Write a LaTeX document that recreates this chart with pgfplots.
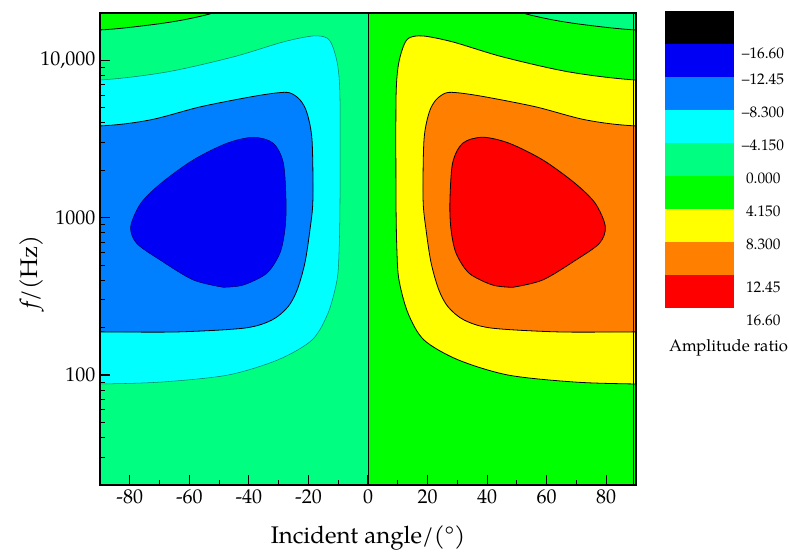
\documentclass[border=0pt]{standalone}
\usepackage{fontspec}
\setmainfont{TeX Gyre Pagella}
\usepackage{pgfplots}
\pgfplotsset{compat=1.18}
\definecolor{cbBlue}{RGB}{0,0,245}
\definecolor{cbMid}{RGB}{0,128,255}
\definecolor{cbCyan}{RGB}{0,255,255}
\definecolor{cbSpring}{RGB}{0,255,128}
\definecolor{cbGreen}{RGB}{0,255,0}
\definecolor{cbYellow}{RGB}{255,255,0}
\definecolor{cbOrange}{RGB}{255,128,0}
\definecolor{cbRed}{RGB}{255,0,0}
\definecolor{lineTeal}{RGB}{0,130,100}
\definecolor{lineNavy}{RGB}{0,0,110}
\begin{document}
\begin{tikzpicture}
\path[use as bounding box] (-75pt,-51pt) rectangle (516.75pt,363.75pt);
\begin{axis}[
  at={(0,0)}, anchor=south west,
  width=402pt, height=354pt, scale only axis,
  xmin=-90, xmax=90, ymin=20, ymax=20000, ymode=log,
  axis on top,
  xtick={-80,-60,-40,-20,0,20,40,60,80},
  xticklabels={-80,-60,-40,-20,0,20,40,60,80},
  minor xtick={-70,-50,-30,-10,10,30,50,70},
  ytick={100,1000,10000},
  yticklabels={100,1000,{10,000}},
  minor ytick={20,30,40,50,60,70,80,90,200,300,400,500,600,700,800,900,2000,3000,4000,5000,6000,7000,8000,9000},
  tick pos=left, tick align=inside,
  major tick length=7.5pt, minor tick length=4pt,
  every tick/.style={black, line width=0.8pt},
  axis line style={black, line width=0.9pt},
  ticklabel style={font=\fontsize{15}{18}\selectfont},
  xlabel={Incident angle/(°)},
  ylabel={{\itshape f}/(Hz)},
  every axis x label/.style={at={(axis description cs:0.5,-0.112)}, anchor=center, font=\fontsize{18}{21}\selectfont},
  every axis y label/.style={at={(axis description cs:-0.127,0.451)}, anchor=center, rotate=90, font=\fontsize{18}{21}\selectfont},
]
% backgrounds
\addplot[fill=cbSpring, draw=none] coordinates {(-100,10) (0,10) (0,40000) (-100,40000)};
\addplot[fill=cbGreen, draw=none] coordinates {(0,10) (100,10) (100,40000) (0,40000)};
% top corner regions
\addplot[fill=cbGreen, draw=black, line width=0.6pt, smooth] coordinates {
 (-120,15000) (-90,15600) (-73.2,16790) (-62.1,18070) (-52,20000) (-46,22500) (-40,40000) (-120,40000)};
\addplot[fill=cbSpring, draw=black, line width=0.6pt, smooth] coordinates {
 (120,15000) (90,15600) (73.2,16790) (62.1,18070) (52,20000) (46,22500) (40,40000) (120,40000)};
% -8.3..-4.15 (left) and 4.15..8.3 (right)
\addplot[fill=cbCyan, draw=lineTeal, line width=0.4pt, smooth] coordinates {
 (-120,7300) (-90,7500) (-67.5,8440) (-45.3,10510) (-28.5,13090) (-18.5,14290) (-13.8,13880)
 (-11.8,12170) (-10.1,9080) (-9.4,5600) (-9.4,1300) (-9.7,624) (-10.4,402) (-13.4,248)
 (-18.8,167) (-30.2,125) (-47.0,100) (-69.2,90.3) (-90,87.7) (-120,87)};
\addplot[fill=cbYellow, draw=black, line width=0.6pt, smooth] coordinates {
 (120,7300) (90,7500) (67.5,8440) (45.3,10510) (28.5,13090) (18.5,14290) (13.8,13880)
 (11.8,12170) (10.1,9080) (9.4,5600) (9.4,1300) (9.7,624) (10.4,402) (13.4,248)
 (18.8,167) (30.2,125) (47.0,100) (69.2,90.3) (90,87.7) (120,87)};
% -12.45..-8.3 (left) and 8.3..12.45 (right)
\addplot[fill=cbMid, draw=black, line width=0.6pt, smooth] coordinates {
 (-120,3780) (-90,3830) (-73.2,4180) (-56.4,5060) (-39.6,5850) (-30.6,6210) (-26.2,6210)
 (-22.8,5600) (-20.5,4640) (-18.8,3120) (-18.5,1300) (-19.5,836) (-21.2,515) (-23.8,347)
 (-26.9,271) (-32.2,224) (-41.3,199) (-63.8,188) (-90,188) (-120,188)};
\addplot[fill=cbOrange, draw=black, line width=0.6pt, smooth] coordinates {
 (120,3780) (90,3830) (73.2,4180) (56.4,5060) (39.6,5850) (30.6,6210) (26.2,6210)
 (22.8,5600) (20.5,4640) (18.8,3120) (18.5,1300) (19.5,836) (21.2,515) (23.8,347)
 (26.9,271) (32.2,224) (41.3,199) (63.8,188) (90,188) (120,188)};
% extreme regions
\addplot[fill=cbBlue, draw=lineNavy, line width=0.4pt, smooth] coordinates {
 (-48.6,361) (-58.7,402) (-69.8,538) (-77.7,687) (-79.7,877) (-76.3,1235) (-69.5,1656)
 (-58.7,2328) (-47.4,2973) (-38.5,3245) (-31.8,2973) (-28.4,2219) (-27.5,1235) (-27.9,836)
 (-29.6,594) (-34.0,443) (-41.9,373) (-48.6,361)};
\addplot[fill=cbRed, draw=black, line width=0.6pt, smooth] coordinates {
 (48.6,361) (58.7,402) (69.8,538) (77.7,687) (79.7,877) (76.3,1235) (69.5,1656)
 (58.7,2328) (47.4,2973) (38.5,3245) (31.8,2973) (28.4,2219) (27.5,1235) (27.9,836)
 (29.6,594) (34.0,443) (41.9,373) (48.6,361)};
% vertical contour lines
\addplot[black, line width=0.6pt] coordinates {(0,10) (0,40000)};
\addplot[black, line width=0.6pt] coordinates {(89,10) (89,40000)};
\end{axis}
\begin{axis}[
  at={(423.75pt,132.5pt)}, anchor=south west,
  width=51.75pt, height=223pt, scale only axis,
  xmin=0, xmax=1, ymin=0, ymax=9, hide axis, clip=false,
]
\addplot[fill=cbRed, draw=none] coordinates {(0,0) (1,0) (1,1) (0,1)};
\addplot[fill=cbOrange, draw=none] coordinates {(0,1) (1,1) (1,2) (0,2)};
\addplot[fill=cbYellow, draw=none] coordinates {(0,2) (1,2) (1,3) (0,3)};
\addplot[fill=cbGreen, draw=none] coordinates {(0,3) (1,3) (1,4) (0,4)};
\addplot[fill=cbSpring, draw=none] coordinates {(0,4) (1,4) (1,5) (0,5)};
\addplot[fill=cbCyan, draw=none] coordinates {(0,5) (1,5) (1,6) (0,6)};
\addplot[fill=cbMid, draw=none] coordinates {(0,6) (1,6) (1,7) (0,7)};
\addplot[fill=cbBlue, draw=none] coordinates {(0,7) (1,7) (1,8) (0,8)};
\addplot[fill=black, draw=none] coordinates {(0,8) (1,8) (1,9) (0,9)};
\begin{scope}[every node/.style={anchor=west, font=\fontsize{11.5}{13}\selectfont, inner sep=0pt}]
\node at (axis cs:1.11,7.73) {--16.60};
\node at (axis cs:1.11,6.94) {--12.45};
\node at (axis cs:1.11,5.94) {--8.300};
\node at (axis cs:1.11,4.94) {--4.150};
\node at (axis cs:1.17,3.94) {0.000};
\node at (axis cs:1.17,2.95) {4.150};
\node at (axis cs:1.17,1.95) {8.300};
\node at (axis cs:1.17,0.64) {12.45};
\node at (axis cs:1.17,-0.35) {16.60};
\end{scope}
\node[font=\fontsize{12.5}{14}\selectfont] at (axis cs:0.92,-1.2) {Amplitude ratio};
\end{axis}
\end{tikzpicture}
\end{document}
